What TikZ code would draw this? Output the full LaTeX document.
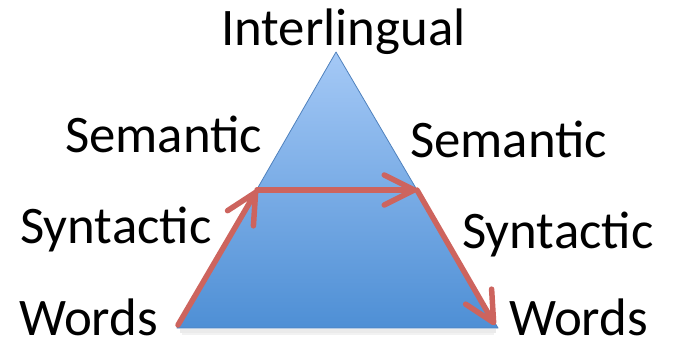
\documentclass[tikz,border=0pt]{standalone}
\usepackage{fontspec}
\setmainfont{Carlito}
\usetikzlibrary{arrows.meta}
\definecolor{arrowred}{RGB}{205,100,94}
\definecolor{tritop}{RGB}{165,201,246}
\definecolor{tribot}{RGB}{78,143,213}
\definecolor{triedge}{RGB}{79,129,189}
\tikzset{
  lbl/.style={anchor=base west, inner sep=0pt, text depth=0pt, font=\fontsize{53}{60}\selectfont},
  redarrow/.style={draw=arrowred, line width=5.5bp, line cap=round, line join=round,
    -{Straight Barb[length=30bp,width=30bp,line cap=round,line join=round]}}
}
\begin{document}
\begin{tikzpicture}[x=1bp,y=-1bp]
\useasboundingbox (0,0) rectangle (683,344);
% shadow
\fill[black,opacity=0.08] (180,329) rectangle (496,333);
\fill[black,opacity=0.05] (182,333) rectangle (494,335);
% triangle
\coordinate (apex) at (336,52);
\coordinate (bl) at (177,328);
\coordinate (br) at (498,328);
\shade[top color=tritop, bottom color=tribot] (apex) -- (br) -- (bl) -- cycle;
\draw[triedge, line width=0.8bp, line join=round] (apex) -- (br) -- (bl) -- cycle;
% arrows
\coordinate (a0) at (178,325);
\coordinate (a1) at (257,190);
\coordinate (a2) at (417,190);
\coordinate (a3) at (495,325);
\draw[redarrow] (a0) -- (a1);
\draw[redarrow] (a1) -- (a2);
\draw[redarrow] (a2) -- (a3);
% labels
\node[lbl] (inter) at (221,45) {Interlingual};
\node[lbl] (semL) at (65,152) {Semantic};
\node[lbl] (synL) at (20,243) {Syntactic};
\node[lbl] (wordsL) at (19,335) {Words};
\node[lbl] (semR) at (410,157) {Semantic};
\node[lbl] (synR) at (462,248) {Syntactic};
\node[lbl] (wordsR) at (509,335) {Words};
\end{tikzpicture}
\end{document}
